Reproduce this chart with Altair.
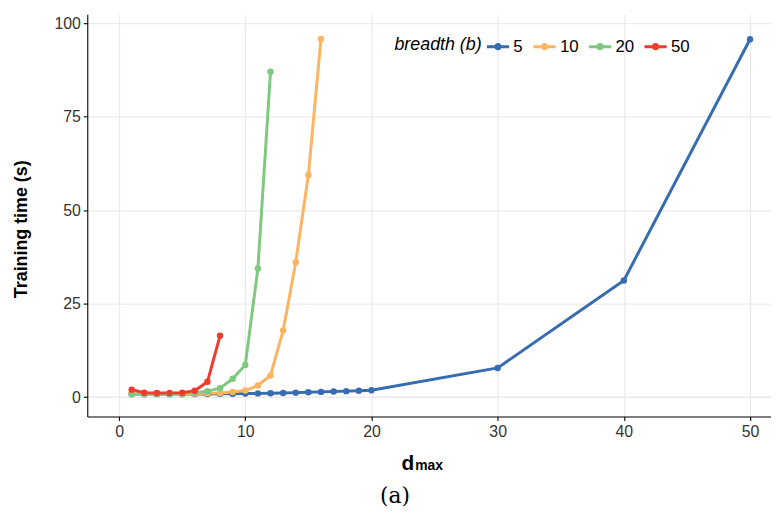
import altair as alt
import pandas as pd

breadths = ["5", "10", "20", "50"]
colors = ["#386cb0", "#fdb462", "#7fc97f", "#ef3b2c"]

d_5 = list(range(1, 21)) + [30, 40, 50]
t_5 = [0.8, 0.8, 0.8, 0.8, 0.8, 0.85, 0.85, 0.9, 0.9, 0.95, 1.0, 1.05, 1.1, 1.2,
       1.3, 1.4, 1.5, 1.6, 1.7, 1.85, 7.8, 31.2, 95.7]
d_10 = list(range(1, 17))
t_10 = [0.9, 0.9, 0.9, 0.9, 0.9, 0.95, 1.0, 1.1, 1.35, 1.75, 3.1, 5.8, 17.8, 36.1, 59.4, 95.8]
d_20 = list(range(1, 13))
t_20 = [0.8, 0.85, 0.85, 0.9, 1.0, 1.2, 1.6, 2.4, 4.9, 8.6, 34.4, 87.0]
d_50 = list(range(1, 9))
t_50 = [2.0, 1.2, 1.1, 1.1, 1.2, 1.7, 4.1, 16.4]

x_ticks = [0, 10, 20, 30, 40, 50]
y_ticks = [0, 25, 50, 75, 100]

rows = []
for b, ds, ts in zip(breadths, [d_5, d_10, d_20, d_50], [t_5, t_10, t_20, t_50]):
    for d, t in zip(ds, ts):
        rows.append({"b": b, "d": d, "t": t, "order": breadths.index(b)})
df = pd.DataFrame(rows)

legend_symbol = ("M-1,-0.14 H1 V0.14 H-1 Z "
                 "M0,-0.33 A0.33,0.33 0 1,1 0,0.33 A0.33,0.33 0 1,1 0,-0.33 Z")

x_enc = alt.X("d:Q", scale=alt.Scale(domain=[-2.52, 51.66], nice=False, zero=False),
              axis=alt.Axis(values=x_ticks, title=None, format="d"))
y_enc = alt.Y("t:Q", scale=alt.Scale(domain=[-5.2, 102.4], nice=False, zero=False),
              axis=alt.Axis(values=y_ticks, title=None, format="d"))
color_enc = alt.Color(
    "b:N",
    scale=alt.Scale(domain=breadths, range=colors),
    sort=breadths,
    legend=alt.Legend(
        title="breadth (b)", orient="none", direction="horizontal",
        titleOrient="left", legendX=310, legendY=21,
        symbolType=legend_symbol, symbolSize=500, symbolStrokeWidth=0,
        titleFontStyle="italic", titleFontWeight="normal", titleFontSize=18,
        titleFont="Liberation Sans", titleColor="#000000", titlePadding=4,
        titleBaseline="middle", titleAnchor="middle",
        labelFontSize=17, labelFont="Liberation Sans", labelColor="#000000",
        labelOffset=4, columnPadding=10, padding=0,
    ),
)

base = alt.Chart(df)
lines = base.mark_line(strokeWidth=3, clip=True).encode(
    x=x_enc, y=y_enc, color=color_enc, detail="b:N", order="d:Q")
points = base.mark_circle(size=42, opacity=1, clip=True).encode(
    x="d:Q", y="t:Q",
    color=alt.Color("b:N", scale=alt.Scale(domain=breadths, range=colors), legend=None),
    order="order:Q")

ann = pd.DataFrame({"a": [0]})
ytitle = alt.Chart(ann).mark_text(
    text="Training time (s)", angle=270, font="Liberation Sans", fontWeight="bold",
    fontSize=18, align="center", baseline="middle", color="#000000"
).encode(x=alt.value(-66), y=alt.value(217))
xtitle_d = alt.Chart(ann).mark_text(
    text="d", font="Liberation Sans", fontWeight="bold", fontSize=21,
    align="left", baseline="alphabetic", color="#000000"
).encode(x=alt.value(317), y=alt.value(460))
xtitle_max = alt.Chart(ann).mark_text(
    text="max", font="Liberation Sans", fontWeight="bold", fontSize=14,
    align="left", baseline="alphabetic", color="#000000"
).encode(x=alt.value(331), y=alt.value(460))
caption = alt.Chart(ann).mark_text(
    text="(a)", font="DejaVu Serif", fontSize=22, fontWeight=300,
    align="center", baseline="alphabetic", color="#000000"
).encode(x=alt.value(310.5), y=alt.value(493))

chart = alt.layer(lines, points, ytitle, xtitle_d, xtitle_max, caption).properties(
    width=690, height=406,
    autosize=alt.AutoSizeParams(type="none"),
    padding={"left": 80, "top": 4, "right": 0, "bottom": 94},
).configure_view(stroke=None).configure_axis(
    domainColor="#000000", domainWidth=1.1,
    tickColor="#000000", tickSize=4, tickWidth=1.1,
    gridColor="#ebebeb", gridWidth=1.3,
    labelFont="Liberation Sans", labelFontSize=16, labelColor="#333333",
).configure_axisX(labelPadding=3).configure_axisY(labelPadding=3)

chart.save("out.html", embed_options={"renderer": "svg", "actions": False})
